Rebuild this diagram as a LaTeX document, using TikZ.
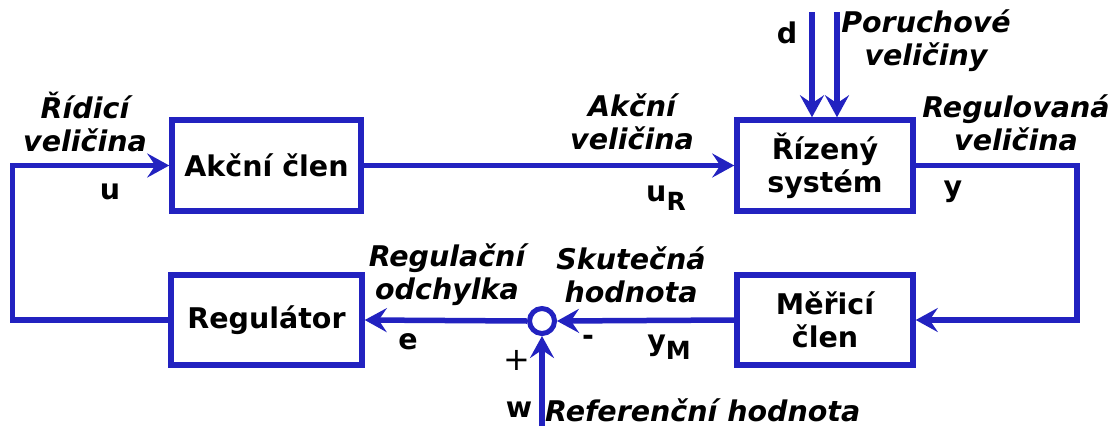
\documentclass[tikz,border=0pt]{standalone}
\usepackage{fontspec}
\setmainfont{DejaVu Sans}
\usetikzlibrary{arrows.meta,calc}
\definecolor{lineblue}{RGB}{34,34,192}
\tikzset{
  blk/.style={draw=lineblue,line width=5.5pt,rectangle,align=center,
    font=\fontsize{28.5}{33}\selectfont\bfseries,inner sep=0pt},
  lbl/.style={align=center,font=\fontsize{28.5}{33}\selectfont\bfseries\itshape,inner sep=0pt},
  sym/.style={font=\fontsize{28.5}{33}\selectfont\bfseries,inner sep=0pt},
  conn/.style={draw=lineblue,line width=5.5pt,
    -{Stealth[length=22pt,width=24pt,inset=8pt]}},
  sumc/.style={draw=lineblue,line width=5pt,circle,minimum size=25pt,inner sep=0pt,fill=white}
}
\begin{document}
\begin{tikzpicture}[x=1pt,y=-1pt]
\useasboundingbox (0,0) rectangle (1119,426);
% blocks
\node[blk,minimum width=189pt,minimum height=91pt] (akc) at (266.5,165.5) {Akční člen};
\node[blk,minimum width=176pt,minimum height=91pt] (riz) at (825,165.5) {Řízený\\systém};
\node[blk,minimum width=191pt,minimum height=90pt] (reg) at (266.5,320) {Regulátor};
\node[blk,minimum width=176pt,minimum height=90pt] (mer) at (825,320) {Měřicí\\člen};
\node[sumc] (sum) at (542,321) {};
% coordinates
\coordinate (lft) at (12.5,320);
\coordinate (rgt) at (1077,165.5);
\coordinate (win) at (542,426);
\coordinate (d1) at (812,12);
\coordinate (d2) at (837,12);
% connectors
\draw[conn] (reg.west) -- (lft) |- (akc.west);
\draw[conn] (akc.east) -- (riz.west);
\draw[conn] (riz.east) -- (rgt) |- (mer.east);
\draw[conn] (mer.west) -- (sum.east);
\draw[conn] (sum.west) -- (reg.east);
\draw[conn] (win) -- (sum.south);
\draw[conn] (d1) -- (d1 |- riz.north);
\draw[conn] (d2) -- (d2 |- riz.north);
% labels
\node[lbl] (l1) at (85,122) {Řídicí\\veličina};
\node[sym] (u) at (110,192) {u};
\node[lbl] (l2) at (632,122) {Akční\\veličina};
\node[sym] (uR) at (666,198) {u\lower9pt\hbox{\fontsize{25}{28}\selectfont R}};
\node[sym] (d) at (787,33) {d};
\node[lbl] (l3) at (926,41) {Poruchové\\veličiny};
\node[lbl] (l4) at (1016,123) {Regulovaná\\veličina};
\node[sym] (y) at (953,192) {y};
\node[lbl] (l5) at (447,275) {Regulační\\odchylka};
\node[lbl] (l6) at (631,275) {Skutečná\\hodnota};
\node[sym] (e) at (408,342) {e};
\node[sym] (minus) at (588,340) {-};
\node[sym] (yM) at (669,347) {y\lower9pt\hbox{\fontsize{25}{28}\selectfont M}};
\node[font=\fontsize{32}{34}\selectfont,inner sep=0pt] (plus) at (517,360) {+};
\node[sym] (w) at (519,410) {w};
\node[lbl,anchor=west] (l7) at (545,410) {Referenční hodnota};
\end{tikzpicture}
\end{document}
